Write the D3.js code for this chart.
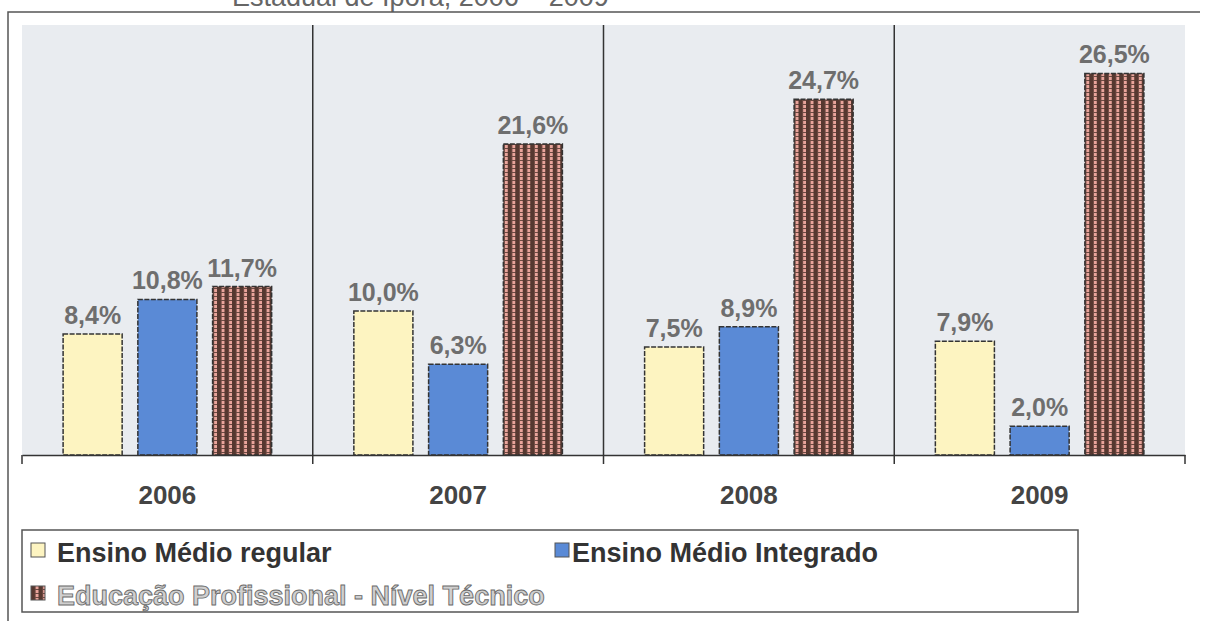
<!DOCTYPE html>
<html>
<head>
<meta charset="utf-8">
<script src="https://cdn.jsdelivr.net/npm/d3@7"></script>
<style>
  body { margin: 0; background: #fff; }
  svg { display: block; font-family: "Liberation Sans", Arial, sans-serif; }
</style>
</head>
<body>
<div id="chart"></div>
<script>
// data
let years = ["2006", "2007", "2008", "2009"];
let seriesNames = ["Ensino Médio regular", "Ensino Médio Integrado", "Educação Profissional - Nível Técnico"];
let regular = [8.4, 10.0, 7.5, 7.9];
let integrado = [10.8, 6.3, 8.9, 2.0];
let tecnico = [11.7, 21.6, 24.7, 26.5];
let valueLabels = [
  ["8,4%", "10,0%", "7,5%", "7,9%"],
  ["10,8%", "6,3%", "8,9%", "2,0%"],
  ["11,7%", "21,6%", "24,7%", "26,5%"]
];

let width = 1205;
let height = 621;

let svg = d3.select("#chart")
  .append("svg")
  .attr("width", width)
  .attr("height", height);

// stripe pattern for the third series
let defs = svg.append("defs");
let pat = defs.append("pattern")
  .attr("id", "stripes")
  .attr("patternUnits", "userSpaceOnUse")
  .attr("width", 7.5)
  .attr("height", 4);
pat.append("rect").attr("width", 7.5).attr("height", 4).attr("fill", "#e9a49b");
pat.append("rect").attr("x", 0).attr("width", 4.5).attr("height", 4).attr("fill", "#563830");
pat.append("rect").attr("x", 4.5).attr("y", 0).attr("width", 3).attr("height", 1).attr("fill", "#6b4a42");

let colors = ["#fdf4c1", "#5a8ad6", "url(#stripes)"];

// cut off title at the very top (as in the scan)
svg.append("text")
  .attr("x", 232)
  .attr("y", 6)
  .attr("font-size", 27)
  .attr("fill", "#666")
  .text("Estadual de Iporá, 2006 – 2009");

// outer frame
svg.append("path")
  .attr("d", "M8,621 V12 H1200")
  .attr("fill", "none")
  .attr("stroke", "#555")
  .attr("stroke-width", 1.5);

let plotLeft = 22, plotRight = 1185, plotTop = 25, plotBottom = 455;

svg.append("rect")
  .attr("x", plotLeft)
  .attr("y", plotTop)
  .attr("width", plotRight - plotLeft)
  .attr("height", plotBottom - plotTop)
  .attr("fill", "#e9ecf0");

let x0 = d3.scaleBand()
  .domain(years)
  .range([plotLeft, plotRight]);

let x1 = d3.scaleBand()
  .domain([0, 1, 2])
  .range([0, x0.bandwidth()])
  .paddingInner(0.21)
  .paddingOuter(0.55);

let y = d3.scaleLinear()
  .domain([0, 30])
  .range([plotBottom, plotBottom - 432]);

// category dividers
svg.append("g")
  .selectAll("line")
  .data(years.slice(1))
  .join("line")
  .attr("x1", d => x0(d))
  .attr("x2", d => x0(d))
  .attr("y1", plotTop)
  .attr("y2", plotBottom)
  .attr("stroke", "#333")
  .attr("stroke-width", 1.5);

let allSeries = [regular, integrado, tecnico];

let groups = svg.append("g")
  .selectAll("g")
  .data(years)
  .join("g")
  .attr("transform", d => `translate(${x0(d)},0)`);

groups.selectAll("rect")
  .data((d, i) => allSeries.map((s, k) => ({ k: k, v: s[i] })))
  .join("rect")
  .attr("x", d => x1(d.k))
  .attr("y", d => y(d.v))
  .attr("width", x1.bandwidth())
  .attr("height", d => y(0) - y(d.v))
  .attr("fill", d => colors[d.k])
  .attr("stroke", "#333")
  .attr("stroke-width", 1.5)
  .attr("stroke-dasharray", "5,1.5");

groups.selectAll("text")
  .data((d, i) => allSeries.map((s, k) => ({ k: k, v: s[i], label: valueLabels[k][i] })))
  .join("text")
  .attr("x", d => x1(d.k) + x1.bandwidth() / 2)
  .attr("y", d => y(d.v) - 10)
  .attr("text-anchor", "middle")
  .attr("font-size", 25)
  .attr("font-weight", "bold")
  .attr("fill", "#6e6e6e")
  .text(d => d.label);

// x axis
let xAxis = d3.axisBottom(x0).tickSize(0).tickPadding(31);
let gx = svg.append("g")
  .attr("transform", `translate(0,${plotBottom})`)
  .call(xAxis);
gx.select(".domain").attr("stroke", "#333").attr("stroke-width", 1.5);
gx.selectAll(".tick text")
  .attr("font-size", 26)
  .attr("font-weight", "bold")
  .attr("fill", "#444")
  .attr("font-family", "Liberation Sans, Arial, sans-serif");

// boundary ticks below the axis
svg.append("g")
  .selectAll("line")
  .data(years.map(d => x0(d)).concat([plotRight]))
  .join("line")
  .attr("x1", d => d)
  .attr("x2", d => d)
  .attr("y1", plotBottom)
  .attr("y2", plotBottom + 9)
  .attr("stroke", "#333")
  .attr("stroke-width", 1.5);

// legend
let legend = svg.append("g");
legend.append("rect")
  .attr("x", 22)
  .attr("y", 530)
  .attr("width", 1056)
  .attr("height", 82)
  .attr("fill", "#fff")
  .attr("stroke", "#555")
  .attr("stroke-width", 1.5);

let legendPos = [[31, 562], [555, 562], [31, 605]];
let legendFill = ["#333", "#333", "#cfcfcf"];
let legendStroke = ["none", "none", "#6a6a6a"];

let items = legend.selectAll("g.item")
  .data(seriesNames)
  .join("g")
  .attr("class", "item")
  .attr("transform", (d, i) => `translate(${legendPos[i][0]},${legendPos[i][1]})`);

items.append("rect")
  .attr("x", 0)
  .attr("y", -19)
  .attr("width", 14)
  .attr("height", 14)
  .attr("fill", (d, i) => colors[i])
  .attr("stroke", "#555")
  .attr("stroke-width", 1);

items.append("text")
  .attr("x", (d, i) => i === 1 ? 17 : 26)
  .attr("y", 0)
  .attr("font-size", 27)
  .attr("font-weight", "bold")
  .attr("fill", (d, i) => legendFill[i])
  .attr("stroke", (d, i) => legendStroke[i])
  .attr("stroke-width", 0.9)
  .text(d => d);
</script>
</body>
</html>
